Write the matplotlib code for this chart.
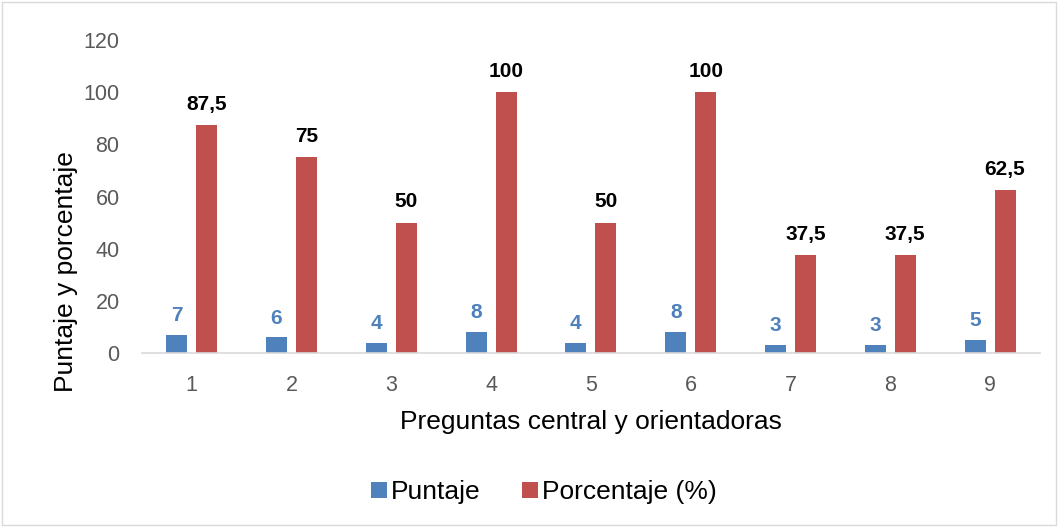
import matplotlib.pyplot as plt
import numpy as np
from matplotlib.patches import Rectangle

plt.rcParams['font.family'] = ['Liberation Sans', 'DejaVu Sans']

preguntas = ["1", "2", "3", "4", "5", "6", "7", "8", "9"]
puntaje = [7, 6, 4, 8, 4, 8, 3, 3, 5]
porcentaje = [87.5, 75, 50, 100, 50, 100, 37.5, 37.5, 62.5]
etiquetas_pct = ["87,5", "75", "50", "100", "50", "100", "37,5", "37,5", "62,5"]

azul = "#4F81BD"
rojo = "#C0504D"

fig = plt.figure(figsize=(10.58, 5.27), dpi=100)
ax = fig.add_axes([0.134, 0.330, 0.849, 0.594])

x = np.arange(len(preguntas))
ancho = 0.21
b1 = ax.bar(x - 0.15, puntaje, ancho, color=azul, label="Puntaje")
b2 = ax.bar(x + 0.15, porcentaje, ancho, color=rojo, label="Porcentaje (%)")

for rect, v in zip(b1, puntaje):
    ax.annotate(str(v), (rect.get_x() + rect.get_width() / 2, v),
                xytext=(0, 10), textcoords="offset points",
                ha="center", va="baseline", color=azul,
                fontsize=15, fontweight="bold")
for rect, v, t in zip(b2, porcentaje, etiquetas_pct):
    ax.annotate(t, (rect.get_x() + rect.get_width() / 2, v),
                xytext=(0, 11), textcoords="offset points",
                ha="center", va="baseline", color="black",
                fontsize=15, fontweight="bold")

ax.set_xlim(-0.5, len(preguntas) - 0.5)
ax.set_ylim(0, 120)
ax.set_yticks(range(0, 121, 20))
ax.set_xticks(x)
ax.set_xticklabels(preguntas)
ax.tick_params(axis="both", length=0, labelsize=15.5, labelcolor="#595959", pad=16)

for s in ["top", "right", "left"]:
    ax.spines[s].set_visible(False)
ax.spines["bottom"].set_color("#D9D9D9")
ax.spines["bottom"].set_linewidth(1.2)

fig.text(0.559, 0.199, "Preguntas central y orientadoras", ha="center", va="center",
         fontsize=19, color="black")
fig.text(0.062, 0.484, "Puntaje y porcentaje", ha="center", va="center",
         rotation=90, fontsize=19, color="black")

fig.legend(handles=[b1, b2], loc="center", bbox_to_anchor=(0.514, 0.066),
           ncol=2, frameon=False, fontsize=19, handlelength=0.6, handleheight=0.6,
           handletextpad=0.15, columnspacing=1.6)

fig.patches.append(Rectangle((0.002, 0.003), 0.996, 0.994, transform=fig.transFigure,
                             fill=False, edgecolor="#D9D9D9", linewidth=1))

fig.savefig("out.png", dpi=100)
